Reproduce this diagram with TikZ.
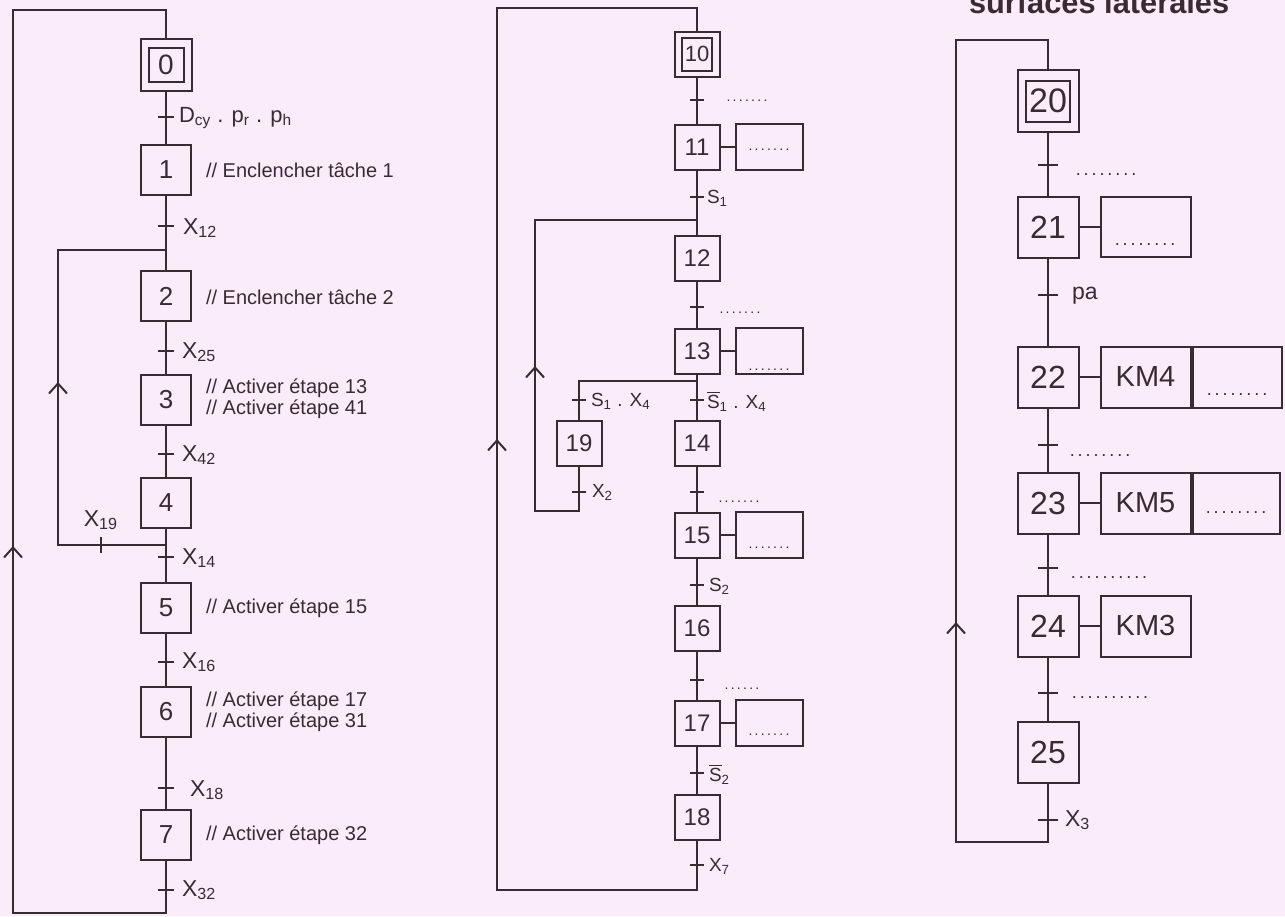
\documentclass[tikz,border=0pt]{standalone}
\usepackage{fontspec}
\setmainfont{Liberation Sans}
\usetikzlibrary{arrows.meta,positioning}
\definecolor{fond}{RGB}{251,236,249}
\definecolor{trait}{RGB}{58,42,50}
\newcommand\pointilles[1]{\makebox[#1]{\dotfill}}
\newcommand\barS{\ensuremath{\overline{\mbox{S}}}}

\begin{document}
\begin{tikzpicture}[x=0.5pt, y=-0.5pt, line width=1pt, color=trait,
  etapeL/.style={draw, fill=fond, inner sep=0pt, minimum size=25pt, font=\fontsize{13}{13}\selectfont},
  etapeM/.style={etapeL, minimum size=22.5pt, font=\fontsize{12}{12}\selectfont},
  etapeR/.style={etapeL, minimum size=30.5pt, font=\fontsize{16}{16}\selectfont},
  action/.style={draw, fill=fond, inner sep=0pt},
  recep/.style={anchor=west, inner sep=0pt, font=\fontsize{11.5}{12}\selectfont},
  recepM/.style={recep, font=\fontsize{9.5}{10}\selectfont},
  comment/.style={anchor=west, align=left, inner sep=0pt, font=\fontsize{10}{10.5}\selectfont},
  pts/.style={inner sep=0pt, font=\fontsize{7}{7}\selectfont},
  ptsR/.style={pts, font=\fontsize{9}{9}\selectfont},
  fleche/.style={-{Straight Barb[length=5pt,width=9pt]}}]
  \fill[fond] (0,0) rectangle (1285,916);
  \clip (0,0) rectangle (1285,916);
  \node[anchor=base west, inner sep=0pt, font=\bfseries\fontsize{15.4}{16}\selectfont] (titre) at (968,13) {surfaces latérales};

  % grafcet de gauche
  \node[etapeL, minimum width=25.5pt, minimum height=26pt] (e0) at (166,65) {};
  \node[etapeL, minimum width=17.5pt, minimum height=17pt, font=\fontsize{14}{14}\selectfont] (e0i) at (e0) {0};
  \foreach \n/\y in {1/170,2/296,3/400,4/503,5/608,6/712,7/835}
    \node[etapeL] (e\n) at (166,\y) {\n};
  \foreach \a/\b in {e0/e1,e1/e2,e2/e3,e3/e4,e4/e5,e5/e6,e6/e7}
    \draw (\a) -- (\b);
  \foreach \y in {117,226,351,454,557,662,788,890}
    \draw (158,\y) -- (174,\y);
  \node[recep, font=\fontsize{11}{12}\selectfont] (t01) at (178,118) {D\textsubscript{cy} . p\textsubscript{r} . p\textsubscript{h}};
  \node[recep] (t12) at (182,228) {X\textsubscript{12}};
  \node[recep] (t23) at (181,352) {X\textsubscript{25}};
  \node[recep] (t34) at (181,455) {X\textsubscript{42}};
  \node[recep] (t45) at (181,558) {X\textsubscript{14}};
  \node[recep] (t56) at (181,662) {X\textsubscript{16}};
  \node[recep] (t67) at (189,790) {X\textsubscript{18}};
  \node[recep] (t70) at (181,890) {X\textsubscript{32}};
  \node[comment] (c1) at (205,170) {// Enclencher tâche 1};
  \node[comment] (c2) at (205,297) {// Enclencher tâche 2};
  \node[comment] (c3) at (205,399) {// Activer étape 13\\// Activer étape 41};
  \node[comment] (c5) at (205,608) {// Activer étape 15};
  \node[comment] (c6) at (205,712) {// Activer étape 17\\// Activer étape 31};
  \node[comment] (c7) at (205,835) {// Activer étape 32};
  % reprise 4 -> 2
  \coordinate (jL1) at (166,250);
  \coordinate (jL4) at (166,545);
  \draw (jL4) -| (58,250) -- (jL1);
  \draw (101,537) -- (101,553);
  \node[recep, anchor=center] (t42) at (101,520) {X\textsubscript{19}};
  \draw[fleche] (58,396) -- (58,382);
  % bouclage 7 -> 0
  \draw (e7) -- (166,913) -| (13,10) -| (e0);
  \draw[fleche] (13,560) -- (13,546);

  % grafcet du milieu
  \node[etapeM] (e10) at (697,54) {};
  \node[etapeM, minimum width=15pt, minimum height=16.5pt, font=\fontsize{11}{11}\selectfont] (e10i) at (e10) {10};
  \foreach \n/\y in {11/147,12/258,13/351,14/443,15/535,16/628,17/723,18/817}
    \node[etapeM] (e\n) at (697,\y) {\n};
  \node[etapeM] (e19) at (579,443) {19};
  \foreach \a/\b in {e10/e11,e11/e12,e12/e13,e13/e14,e14/e15,e15/e16,e16/e17,e17/e18}
    \draw (\a) -- (\b);
  \foreach \n/\d in {11/-1.5,13/-9.5,15/-6.5,17/-6} {
    \node[action, minimum width=33.5pt, minimum height=23pt, right=7pt of e\n] (a\n) {};
    \node[pts] (p\n) at ([yshift=\d pt]a\n.center) {\pointilles{24pt}};
    \draw (e\n) -- (a\n);
  }
  \foreach \y in {100,197,307,400,492,585,680,773,865}
    \draw (690,\y) -- (704,\y);
  \draw (572,400) -- (586,400);
  \draw (572,492) -- (586,492);
  \node[pts, anchor=west] (r1011) at (722,101) {\pointilles{24pt}};
  \node[pts, anchor=west] (r1213) at (715,313) {\pointilles{24pt}};
  \node[pts, anchor=west] (r1415) at (715,502) {\pointilles{23pt}};
  \node[pts, anchor=west] (r1617) at (720,689) {\pointilles{21pt}};
  \node[recepM] (t1112) at (706,198) {S\textsubscript{1}};
  \node[recepM] (t1319) at (590,401) {S\textsubscript{1} . X\textsubscript{4}};
  \node[recepM] (t1314) at (706,401) {\barS\textsubscript{1} . X\textsubscript{4}};
  \node[recepM] (t1912) at (591,492) {X\textsubscript{2}};
  \node[recepM] (t1516) at (708,586) {S\textsubscript{2}};
  \node[recepM] (t1718) at (708,774) {\barS\textsubscript{2}};
  \node[recepM] (t1810) at (708,866) {X\textsubscript{7}};
  % divergence en OU et reprise 19 -> 12
  \coordinate (jM11) at (697,220);
  \coordinate (jM13) at (697,381);
  \draw (jM13) -| (e19);
  \draw (e19) -- (579,511) -| (535,220) -- (jM11);
  \draw[fleche] (535,381) -- (535,366);
  % bouclage 18 -> 10
  \draw (e18) -- (697,890) -| (497,8) -| (e10);
  \draw[fleche] (497,454) -- (497,439);

  % grafcet de droite
  \node[etapeR, minimum width=30.5pt, minimum height=31pt] (e20) at (1048,101) {};
  \node[etapeR, minimum width=22pt, minimum height=20.5pt, font=\fontsize{17}{17}\selectfont] (e20i) at (e20) {20};
  \foreach \n/\y in {21/227,22/377,23/503,24/626,25/752}
    \node[etapeR] (e\n) at (1048,\y) {\n};
  \foreach \a/\b in {e20/e21,e21/e22,e22/e23,e23/e24,e24/e25}
    \draw (\a) -- (\b);
  \node[action, minimum width=45pt, minimum height=30pt, right=10pt of e21] (a21) {};
  \foreach \n/\k in {22/4,23/5,24/3}
    \node[action, minimum width=45pt, minimum height=30.5pt, right=10pt of e\n, font=\fontsize{14.5}{14.5}\selectfont] (a\n) {KM\k};
  \node[action, minimum width=44.5pt, minimum height=30.5pt, anchor=west] (b22) at (a22.east) {};
  \node[action, minimum width=43.5pt, minimum height=30.5pt, anchor=west] (b23) at (a23.east) {};
  \foreach \n in {21,22,23,24}
    \draw (e\n) -- (a\n);
  \node[ptsR] (p21) at (1145,245) {\pointilles{32pt}};
  \node[ptsR] (p22) at (1237,395) {\pointilles{32pt}};
  \node[ptsR] (p23) at (1236,513) {\pointilles{34pt}};
  \foreach \y in {165,295,445,568,693,820}
    \draw (1038,\y) -- (1058,\y);
  \node[ptsR, anchor=west] (r2021) at (1073,175) {\pointilles{32pt}};
  \node[ptsR, anchor=west] (r2223) at (1067,456) {\pointilles{32pt}};
  \node[ptsR, anchor=west] (r2324) at (1067,578) {\pointilles{41pt}};
  \node[ptsR, anchor=west] (r2425) at (1067,698) {\pointilles{42pt}};
  \node[recep] (t2122) at (1071,296) {pa};
  \node[recep] (t2520) at (1064,820) {X\textsubscript{3}};
  % bouclage 25 -> 20
  \draw (e25) -- (1048,842) -| (956,40) -| (e20);
  \draw[fleche] (956,637) -- (956,622);
\end{tikzpicture}
\end{document}
